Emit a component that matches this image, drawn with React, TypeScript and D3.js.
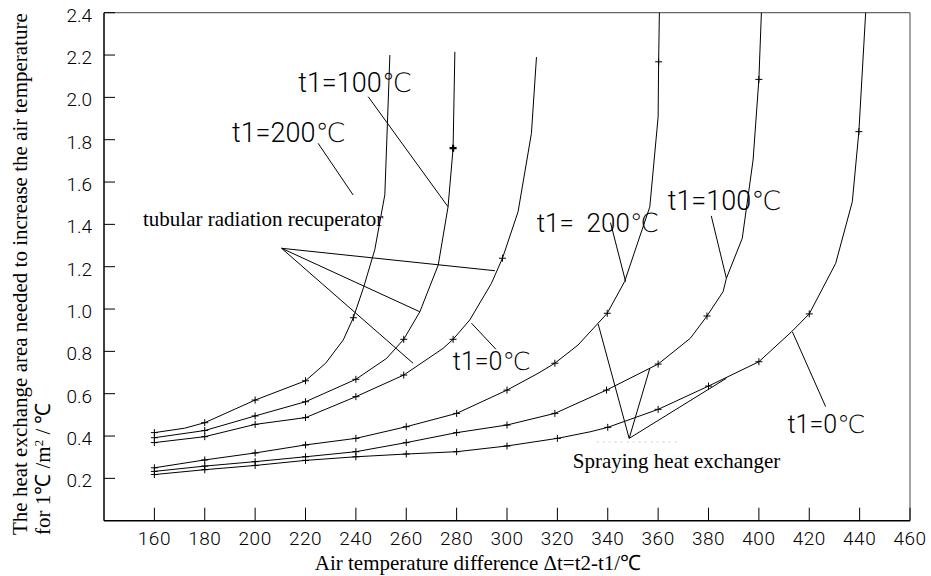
import React from 'react';
import * as d3 from 'd3';

// axis ticks
const xTicks = [160, 180, 200, 220, 240, 260, 280, 300, 320, 340, 360, 380, 400, 420, 440, 460];
const yTicks = [0.2, 0.4, 0.6, 0.8, 1.0, 1.2, 1.4, 1.6, 1.8, 2.0, 2.2, 2.4];

// tubular radiation recuperator curves [Δt, area]
const tubular200 = [[160, 0.416], [172, 0.437], [180, 0.463], [200, 0.57], [220, 0.661], [228, 0.744], [235, 0.854], [239, 0.959], [243, 1.1], [247.5, 1.28], [251.5, 1.54], [253.5, 2.2]];
const tubular200Marks = [[160, 0.416], [180, 0.463], [200, 0.57], [220, 0.661], [239, 0.959]];

const tubular100 = [[160, 0.392], [180, 0.426], [200, 0.495], [220, 0.562], [240, 0.668], [252.2, 0.767], [259, 0.857], [265.4, 0.987], [272.7, 1.208], [276.6, 1.483], [278.6, 1.76], [279.3, 2.215]];
const tubular100Marks = [[160, 0.392], [180, 0.426], [200, 0.495], [220, 0.562], [240, 0.668], [259, 0.857]];

const tubular0 = [[160, 0.369], [180, 0.397], [200, 0.455], [220, 0.487], [240, 0.586], [259, 0.688], [274.6, 0.814], [278.6, 0.857], [285.2, 0.948], [293.8, 1.121], [298.2, 1.24], [304.4, 1.46], [309.7, 1.83], [311.7, 2.19]];
const tubular0Marks = [[160, 0.369], [180, 0.397], [200, 0.455], [220, 0.487], [240, 0.586], [259, 0.688], [278.6, 0.857], [298.2, 1.24]];

// spraying heat exchanger curves
const spray200 = [[160, 0.25], [180, 0.287], [200, 0.32], [220, 0.358], [240, 0.389], [260, 0.444], [280, 0.507], [300, 0.617], [312.3, 0.696], [319, 0.744], [328.2, 0.83], [339.8, 0.98], [346.7, 1.13], [356.7, 1.483], [360, 1.908], [360.2, 2.168], [360.5, 2.4]];
const spray200Marks = [[160, 0.25], [180, 0.287], [200, 0.32], [220, 0.358], [240, 0.389], [260, 0.444], [280, 0.507], [300, 0.617], [319, 0.744], [339.8, 0.98], [360.2, 2.168]];

const spray100 = [[160, 0.233], [180, 0.258], [200, 0.279], [220, 0.302], [240, 0.326], [260, 0.369], [280, 0.416], [300, 0.452], [319, 0.507], [339.5, 0.617], [360, 0.74], [372.8, 0.862], [379.4, 0.967], [385.8, 1.082], [387.1, 1.145], [393.4, 1.334], [397.7, 1.704], [400, 2.085], [401, 2.4]];
const spray100Marks = [[160, 0.233], [180, 0.258], [200, 0.279], [220, 0.302], [240, 0.326], [260, 0.369], [280, 0.416], [300, 0.452], [319, 0.507], [339.5, 0.617], [360, 0.74], [379.4, 0.967], [400, 2.085]];

const spray0 = [[160, 0.218], [180, 0.241], [200, 0.261], [220, 0.285], [240, 0.302], [260, 0.315], [280, 0.326], [300, 0.353], [320, 0.389], [333, 0.42], [340, 0.441], [360, 0.526], [380, 0.636], [400, 0.751], [413, 0.893], [420, 0.977], [430.5, 1.216], [437.1, 1.507], [439.7, 1.838], [442.4, 2.4]];
const spray0Marks = [[160, 0.218], [180, 0.241], [200, 0.261], [220, 0.285], [240, 0.302], [260, 0.315], [280, 0.326], [300, 0.353], [320, 0.389], [340, 0.441], [360, 0.526], [380, 0.636], [400, 0.751], [420, 0.977], [439.7, 1.838]];

// bold marker on tubular t1=100
const boldMarks = [[278.6, 1.76]];

// leader lines, in data units
const leaders = [
  [[210.5, 1.287], [295.2, 1.181]],
  [[210.5, 1.287], [265.4, 0.987]],
  [[210.5, 1.287], [262.7, 0.744]],
  [[225.0, 1.783], [238.9, 1.539]],
  [[244.9, 2.003], [276.6, 1.483]],
  [[295.6, 0.81], [285.9, 0.933]],
  [[341.1, 1.408], [347.1, 1.129]],
  [[381.1, 1.44], [387.1, 1.145]],
  [[426.5, 0.539], [413.3, 0.893]],
  [[348.5, 0.389], [336.2, 0.929]],
  [[348.5, 0.389], [356.7, 0.72]],
  [[348.5, 0.389], [387.1, 0.673]],
];

// curve labels [text, Δt, area, size]
const cadLabels = [
  ['t1=100℃', 217.1, 2.025, 27],
  ['t1=200℃', 190.8, 1.789, 27],
  ['t1=0℃', 278.5, 0.712, 25],
  ['t1=  200℃', 311.8, 1.364, 26],
  ['t1=100℃', 363.8, 1.468, 27],
  ['t1=0℃', 411.4, 0.414, 25],
];
const groupLabels = [
  ['tubular radiation recuperator', 155.5, 1.392],
  ['Spraying heat exchanger', 326.1, 0.249],
];

const x = d3.scaleLinear().domain([140, 460]).range([104, 910]);
const y = d3.scaleLinear().domain([0, 2.4]).range([520.7, 12.7]);

const line = d3.line<number[]>().x(d => x(d[0])).y(d => y(d[1]));

const cad = 'Roboto, "DejaVu Sans", sans-serif';
const cadWeight = 300;
const serif = '"Liberation Serif", "Times New Roman", serif';

const curves = [
  [tubular200, tubular200Marks],
  [tubular100, tubular100Marks],
  [tubular0, tubular0Marks],
  [spray200, spray200Marks],
  [spray100, spray100Marks],
  [spray0, spray0Marks],
];

const Plus = ({ p, w = 1 }: { p: number[]; w?: number }) => {
  const cx = x(p[0]);
  const cy = y(p[1]);
  return <path d={`M${cx - 3.5},${cy}H${cx + 3.5}M${cx},${cy - 3.5}V${cy + 3.5}`} stroke="#000" strokeWidth={w} />;
};

export default function App() {
  const [x0, x1] = x.range();
  const [y0, y1] = y.range();
  return (
    <svg width={931} height={576} style={{ position: 'absolute', left: 0, top: 0, background: '#fff' }}>
      {/* frame */}
      <line x1={x0} y1={y1} x2={x1} y2={y1} stroke="#666" strokeWidth={1.2} />
      <line x1={x1} y1={y1} x2={x1} y2={y0} stroke="#666" strokeWidth={1.2} />
      <line x1={x0} y1={y0} x2={x1} y2={y0} stroke="#000" strokeWidth={1.5} />
      <line x1={x0} y1={y0} x2={x0} y2={y1} stroke="#000" strokeWidth={1.5} />

      {xTicks.map(t => (
        <g key={t}>
          <line x1={x(t)} x2={x(t)} y1={y0} y2={y0 - 13} stroke="#000" strokeWidth={1} />
          <text x={x(t)} y={y0 + 24} textAnchor="middle" fontFamily={cad} fontWeight={cadWeight} fontSize={19} letterSpacing={0.5}>{t}</text>
        </g>
      ))}
      {yTicks.map(t => (
        <g key={t}>
          <line x1={x0} x2={x0 + 11} y1={y(t)} y2={y(t)} stroke="#000" strokeWidth={1} />
          <text x={92} y={y(t) + 4} textAnchor="end" dominantBaseline="middle" fontFamily={cad} fontWeight={cadWeight} fontSize={19}>{t.toFixed(1)}</text>
        </g>
      ))}

      {curves.map(([pts, marks], i) => (
        <g key={i}>
          <path d={line(pts) || ''} fill="none" stroke="#000" strokeWidth={1} />
          {marks.map((m, j) => <Plus key={j} p={m} />)}
        </g>
      ))}
      {boldMarks.map((m, j) => <Plus key={j} p={m} w={2.2} />)}

      {leaders.map((l, i) => (
        <path key={i} d={line(l) || ''} stroke="#000" strokeWidth={1} fill="none" />
      ))}
      <line x1={x(335.6)} x2={x(369)} y1={y(0.372)} y2={y(0.372)} stroke="#ccc" strokeDasharray="2,4" />

      {cadLabels.map(([t, a, b, s], i) => (
        <text key={i} x={x(a as number)} y={y(b as number)} fontFamily={cad} fontWeight={cadWeight} fontSize={s as number} style={{ whiteSpace: 'pre' }}>{t}</text>
      ))}
      {groupLabels.map(([t, a, b], i) => (
        <text key={i} x={x(a as number)} y={y(b as number)} fontFamily={serif} fontSize={21}>{t}</text>
      ))}

      <text x={478} y={570} textAnchor="middle" fontFamily={serif} fontSize={21}>Air temperature difference Δt=t2-t1/℃</text>
      <text transform="translate(27,535) rotate(-90)" fontFamily={serif} fontSize={21}>The heat exchange area needed to increase the air temperature</text>
      <text transform="translate(50,535) rotate(-90)" fontFamily={serif} fontSize={21}>
        for 1℃ /m<tspan dy={-7} fontSize={13}>2</tspan><tspan dy={7}> / ℃</tspan>
      </text>
    </svg>
  );
}
